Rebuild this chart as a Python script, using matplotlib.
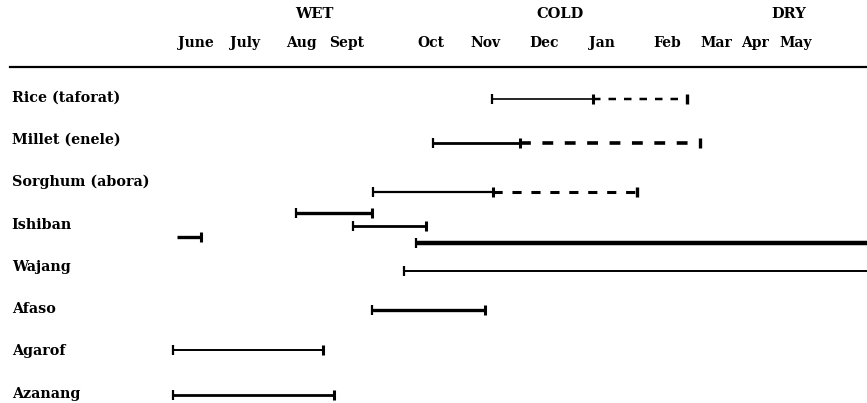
import matplotlib.pyplot as plt

# calendar: June = 0, one unit per month
months = ['June', 'July', 'Aug', 'Sept', 'Oct', 'Nov', 'Dec', 'Jan', 'Feb', 'Mar', 'Apr', 'May']
month_pos = [0.0, 0.90, 1.93, 2.77, 4.31, 5.32, 6.39, 7.45, 8.64, 9.54, 10.26, 11.01]
seasons = ['WET', 'COLD', 'DRY']
season_pos = [2.18, 6.68, 10.88]

crops = ['Rice (taforat)', 'Millet (enele)', 'Sorghum (abora)', 'Ishiban',
         'Wajang', 'Afaso', 'Agarof', 'Azanang']

# one entry per bar: crop row, start, end of solid part, end of dashed part
bar_row = [0, 1, 2, 3, 3, 3, 3, 4, 5, 6, 7]
bar_start = [5.43, 4.35, 3.25, 1.83, 2.88, -0.35, 4.04, 3.82, 3.23, -0.42, -0.42]
bar_solid_end = [7.28, 5.94, 5.45, 3.23, 4.22, 0.09, 12.6, 12.6, 5.30, 2.33, 2.53]
bar_dash_end = [9.01, 9.25, 8.09, None, None, None, None, None, None, None, None]

# drawing details
bar_dy = [0.0, 0.05, 0.2, -0.30, 0.0, 0.26, 0.40, 0.07, 0.0, -0.07, 0.0]
bar_lw = [1.2, 2.0, 1.6, 2.4, 2.0, 2.4, 3.2, 1.4, 2.4, 1.4, 2.0]
left_cap = [True, True, True, True, True, False, True, True, True, True, True]

fig = plt.figure(figsize=(8.67, 4.03), dpi=100)
ax = fig.add_axes([0, 0, 1, 1])
ax.set_xlim(-3.596, 12.312)
ax.set_ylim(7.19, -2.34)
ax.axis('off')

font = dict(family='DejaVu Serif', fontweight='bold', color='black')

for s, x in zip(seasons, season_pos):
    ax.text(x, -2.01, s, ha='center', va='center', fontsize=10.5, **font)
for m, x in zip(months, month_pos):
    ax.text(x, -1.32, m, ha='center', va='center', fontsize=10, **font)

ax.plot([-3.42, 12.4], [-0.76, -0.76], color='black', lw=1.6)

for i, c in enumerate(crops):
    ax.text(-3.38, i - 0.03, c, ha='left', va='center', fontsize=10.3, **font)

for i in range(len(bar_row)):
    y = bar_row[i] + bar_dy[i]
    x0, x1, x2 = bar_start[i], bar_solid_end[i], bar_dash_end[i]
    ax.plot([x0, x1], [y, y], color='black', lw=bar_lw[i], solid_capstyle='butt')
    if left_cap[i]:
        ax.plot([x0], [y], marker='|', color='black', ms=7, mew=1.6)
    ax.plot([x1], [y], marker='|', color='black', ms=7, mew=2.2)
    if x2 is not None:
        ax.plot([x1, x2], [y, y], color='black', lw=bar_lw[i] + 0.6,
                linestyle=(0, (3, 3.2)), dash_capstyle='butt')
        ax.plot([x2], [y], marker='|', color='black', ms=7, mew=2.4)

fig.savefig('out.png', dpi=100)
